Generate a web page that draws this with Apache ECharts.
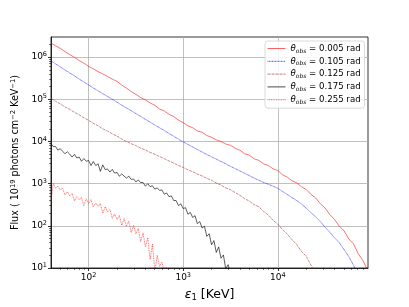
<!DOCTYPE html>
<html>
<head>
<meta charset="utf-8">
<script src="https://cdn.jsdelivr.net/npm/echarts@6/dist/echarts.min.js"></script>
<style>
html,body{margin:0;padding:0;background:#fff;}
#chart{width:409px;height:307px;}
</style>
</head>
<body>
<div id="chart"></div>
<script>
// Energy grid (KeV) for the three wide-range spectra
var energyWide = [40, 44.7, 50.1, 56.2, 63.1, 70.8, 79.4, 89.1, 100, 112, 126, 141, 158, 178, 200, 224, 251, 282, 316, 355, 398, 447, 501, 562, 631, 708, 794, 891, 1000, 1122, 1259, 1413, 1585, 1778, 1995, 2239, 2512, 2818, 3162, 3548, 3981, 4467, 5012, 5623, 6310, 7079, 7943, 8913, 10000, 11220, 12590, 14130, 15850, 17780, 19950, 22390, 25120, 28180, 31620, 35480, 39810, 44670, 50120, 56230, 63100, 70790, 79430, 89130];
// Energy grid (KeV) for the two narrow-range spectra
var energyNarrow = [40, 42.2, 44.7, 47.3, 50.1, 53.1, 56.2, 59.6, 63.1, 66.8, 70.8, 75.0, 79.4, 84.1, 89.1, 94.4, 100, 106, 112, 119, 126, 133, 141, 150, 158, 168, 178, 188, 200, 211, 224, 237, 251, 266, 282, 299, 316, 335, 355, 376, 398, 422, 447, 473, 501, 531, 562, 596, 631, 668, 708, 750, 794, 841, 891, 944, 1000, 1059, 1122, 1189, 1259, 1334, 1413, 1496, 1585, 1679, 1778, 1884, 1995, 2113, 2239, 2371, 2512, 2661, 2818, 2985, 3162];

var seriesNames = ['θobs = 0.005 rad', 'θobs = 0.105 rad', 'θobs = 0.125 rad', 'θobs = 0.175 rad', 'θobs = 0.255 rad'];

var flux005 = [2.16e6, 1.86e6, 1.62e6, 1.35e6, 1.15e6, 9.9e5, 8.3e5, 7.2e5, 6.0e5, 5.3e5, 4.5e5, 4.0e5, 3.5e5, 3.0e5, 2.65e5, 2.17e5, 1.84e5, 1.53e5, 1.31e5, 1.10e5, 9.7e4, 8.2e4, 7.2e4, 5.9e4, 5.3e4, 4.4e4, 3.9e4, 3.2e4, 2.8e4, 2.35e4, 2.12e4, 1.78e4, 1.65e4, 1.38e4, 1.26e4, 1.09e4, 1.0e4, 8700, 8100, 6900, 6200, 5100, 4700, 3900, 3550, 2950, 2700, 2250, 2050, 1620, 1430, 1170, 1050, 840, 730, 560, 460, 335, 265, 185, 142, 98, 77, 49, 38, 22, 15, 8.9];
var flux105 = [8.13e5, 6.92e5, 5.89e5, 4.95e5, 4.22e5, 3.59e5, 3.02e5, 2.57e5, 2.19e5, 1.86e5, 1.585e5, 1.36e5, 1.17e5, 1.0e5, 8.51e4, 7.24e4, 6.24e4, 5.37e4, 4.57e4, 3.94e4, 3.35e4, 2.88e4, 2.45e4, 2.11e4, 1.82e4, 1.55e4, 1.33e4, 1.135e4, 9770, 8510, 7410, 6460, 5620, 4900, 4320, 3800, 3350, 2950, 2570, 2260, 2000, 1760, 1550, 1350, 1200, 1070, 966, 871, 776, 653, 556, 468, 398, 331, 263, 207, 164, 126, 93, 71, 52, 40, 27.5, 19, 11.7, 7.1, null, null];
var flux125 = [1.05e5, 9.0e4, 7.8e4, 6.6e4, 5.8e4, 4.9e4, 4.3e4, 3.65e4, 3.17e4, 2.70e4, 2.35e4, 2.0e4, 1.77e4, 1.52e4, 1.33e4, 1.14e4, 1.0e4, 8850, 7980, 6950, 6280, 5520, 4980, 4380, 3920, 3440, 3080, 2700, 2420, 2120, 1920, 1680, 1520, 1340, 1200, 1040, 920, 795, 715, 610, 530, 440, 385, 318, 283, 220, 181, 135, 110, 81, 64, 47, 36, 25, 19, 11.8, 7.6, null, null, null, null, null, null, null, null, null, null, null];
var flux175 = [8900, 7590, 7590, 6240, 6760, 5820, 5130, 5690, 5010, 4270, 4950, 4070, 4270, 3390, 3940, 3390, 3550, 2690, 3350, 2690, 2950, 1950, 2790, 2140, 2240, 1880, 2190, 1780, 1840, 1500, 1700, 1510, 1350, 1510, 1260, 1290, 1100, 1220, 1060, 1070, 871, 1000, 851, 891, 741, 794, 692, 708, 562, 603, 490, 513, 398, 398, 302, 331, 257, 269, 188, 209, 158, 174, 112, 126, 89, 98, 56, 65, 35.5, 44.7, 23.4, 31.6, 17, 20.4, 9.5, 12, 7.6];
var flux255 = [380, 1020, 776, 871, 708, 776, 537, 646, 513, 589, 389, 490, 417, 468, 302, 437, 339, 417, 282, 347, 288, 339, 200, 282, 214, 245, 151, 191, 141, 178, 102, 148, 98, 129, 69, 102, 65, 87, 42, 68, 32, 52, 16, 37, 8.3, 20, 11, 13.8, 8.3, 10.5, 6.3, null, null, null, null, null, null, null, null, null, null, null, null, null, null, null, null, null, null, null, null, null, null, null, null, null, null];

var xMajorTicks = [100, 1000, 10000];
var yMajorTicks = [10, 100, 1000, 10000, 100000, 1000000];
var xMinorTicks = [50, 60, 70, 80, 90, 200, 300, 400, 500, 600, 700, 800, 900, 2000, 3000, 4000, 5000, 6000, 7000, 8000, 9000, 20000, 30000, 40000, 50000, 60000, 70000, 80000];
var yMinorTicks = [20, 30, 40, 50, 60, 70, 80, 90, 200, 300, 400, 500, 600, 700, 800, 900, 2000, 3000, 4000, 5000, 6000, 7000, 8000, 9000, 20000, 30000, 40000, 50000, 60000, 70000, 80000, 90000, 200000, 300000, 400000, 500000, 600000, 700000, 800000, 900000, 2000000];

var X_MIN = 40, X_MAX = 90000, Y_MIN = 10, Y_MAX = 3e6;

function pairs(xs, ys) {
  var out = [];
  for (var i = 0; i < xs.length; i++) {
    if (ys[i] != null) out.push([xs[i], ys[i]]);
  }
  return out;
}

var FONT = 'DejaVu Sans';
function powLabel(v) {
  var e = Math.round(Math.log10(v));
  if (Math.abs(Math.log10(v) - e) > 1e-6) return '';
  return '{b|10}{s|' + e + '}';
}
var tickRich = {
  b: {fontFamily: FONT, fontSize: 9, color: '#000', lineHeight: 12},
  s: {fontFamily: FONT, fontSize: 6.5, color: '#000', verticalAlign: 'top', lineHeight: 8}
};

var styles = [
  {color: 'rgba(255,0,0,0.62)', type: 'solid', width: 0.9},
  {color: 'rgba(0,0,255,0.68)', type: [1, 0.5], width: 0.9},
  {color: 'rgba(165,42,42,0.62)', type: [3, 1], width: 0.9},
  {color: 'rgba(0,0,0,0.7)', type: 'solid', width: 0.9},
  {color: 'rgba(255,0,0,0.62)', type: [1, 0.7], width: 0.9}
];
var datas = [
  pairs(energyWide, flux005),
  pairs(energyWide, flux105),
  pairs(energyWide, flux125),
  pairs(energyNarrow, flux175),
  pairs(energyNarrow, flux255)
];

var series = [];
for (var k = 0; k < 5; k++) {
  series.push({
    name: seriesNames[k],
    type: 'line',
    xAxisIndex: 0,
    yAxisIndex: 0,
    data: datas[k],
    showSymbol: false,
    symbol: 'none',
    clip: true,
    animation: false,
    lineStyle: styles[k],
    itemStyle: {color: styles[k].color}
  });
}

function baseX(extra) {
  var o = {type: 'log', logBase: 10, min: X_MIN, max: X_MAX, position: 'bottom'};
  for (var key in extra) o[key] = extra[key];
  return o;
}
function baseY(extra) {
  var o = {type: 'log', logBase: 10, min: Y_MIN, max: Y_MAX, position: 'left'};
  for (var key in extra) o[key] = extra[key];
  return o;
}

var option = {
  animation: false,
  backgroundColor: '#fff',
  grid: {left: 51, top: 37, right: 41, bottom: 36, show: true, borderColor: '#000', borderWidth: 0.8, backgroundColor: 'transparent'},
  legend: {
    orient: 'vertical',
    left: 265,
    top: 41,
    padding: [3, 4, 3, 2],
    itemWidth: 18,
    itemHeight: 9,
    itemGap: 2.8,
    backgroundColor: 'rgba(255,255,255,0.85)',
    borderColor: '#d0d0d0',
    borderWidth: 0.8,
    borderRadius: 3,
    itemStyle: {opacity: 0},
    lineStyle: {width: 1},
    data: seriesNames.slice(),
    formatter: function (name) {
      var v = name.replace('θobs = ', '');
      return '{t|θ}{o|obs}{n| = ' + v + '}';
    },
    textStyle: {
      fontFamily: FONT, fontSize: 8.6, color: '#000',
      rich: {
        t: {fontFamily: FONT, fontSize: 8.6, fontStyle: 'italic', color: '#000', lineHeight: 11},
        o: {fontFamily: FONT, fontSize: 6, fontStyle: 'italic', color: '#000', verticalAlign: 'bottom', lineHeight: 8},
        n: {fontFamily: FONT, fontSize: 8.6, color: '#000', lineHeight: 11}
      }
    }
  },
  xAxis: [
    baseX({
      name: '{e|ε}{u|1}{n| [KeV]}',
      nameLocation: 'middle',
      nameGap: 19,
      nameTextStyle: {
        rich: {
          e: {fontFamily: FONT, fontSize: 12.5, fontStyle: 'italic', color: '#000', lineHeight: 15},
          u: {fontFamily: FONT, fontSize: 8.5, color: '#000', verticalAlign: 'bottom', lineHeight: 10},
          n: {fontFamily: FONT, fontSize: 12.5, color: '#000', lineHeight: 15}
        }
      },
      axisLine: {show: true, lineStyle: {color: '#000', width: 0.8}},
      axisTick: {show: true, inside: false, length: 3, lineStyle: {color: '#000', width: 0.8}, customValues: xMajorTicks},
      axisLabel: {show: true, margin: 4, formatter: powLabel, rich: tickRich, customValues: xMajorTicks, fontFamily: FONT, fontSize: 9, color: '#000'},
      splitLine: {show: true, lineStyle: {color: '#b0b0b0', width: 0.8}}
    }),
    baseX({
      axisLine: {show: false},
      axisTick: {show: true, inside: false, length: 1.8, lineStyle: {color: '#000', width: 0.6}, customValues: xMinorTicks},
      axisLabel: {show: false},
      splitLine: {show: false}
    })
  ],
  yAxis: [
    baseY({
      name: '{n|Flux ( 10}{s|19}{n| photons cm}{s|−2}{n| KeV}{s|−1}{n|)}',
      nameLocation: 'middle',
      nameRotate: 90,
      nameGap: 21,
      nameTextStyle: {
        rich: {
          n: {fontFamily: FONT, fontSize: 9.6, color: '#000', lineHeight: 12},
          s: {fontFamily: FONT, fontSize: 6.8, color: '#000', verticalAlign: 'top', lineHeight: 8}
        }
      },
      axisLine: {show: true, lineStyle: {color: '#000', width: 0.8}},
      axisTick: {show: true, inside: false, length: 3, lineStyle: {color: '#000', width: 0.8}, customValues: yMajorTicks},
      axisLabel: {show: true, margin: 4, formatter: powLabel, rich: tickRich, customValues: yMajorTicks, fontFamily: FONT, fontSize: 9, color: '#000'},
      splitLine: {show: true, lineStyle: {color: '#b0b0b0', width: 0.8}}
    }),
    baseY({
      axisLine: {show: false},
      axisTick: {show: true, inside: false, length: 1.8, lineStyle: {color: '#000', width: 0.6}, customValues: yMinorTicks},
      axisLabel: {show: false},
      splitLine: {show: false}
    })
  ],
  series: series
};

var chart = echarts.init(document.getElementById('chart'), null, {renderer: 'canvas'});
chart.setOption(option);
</script>
</body>
</html>
